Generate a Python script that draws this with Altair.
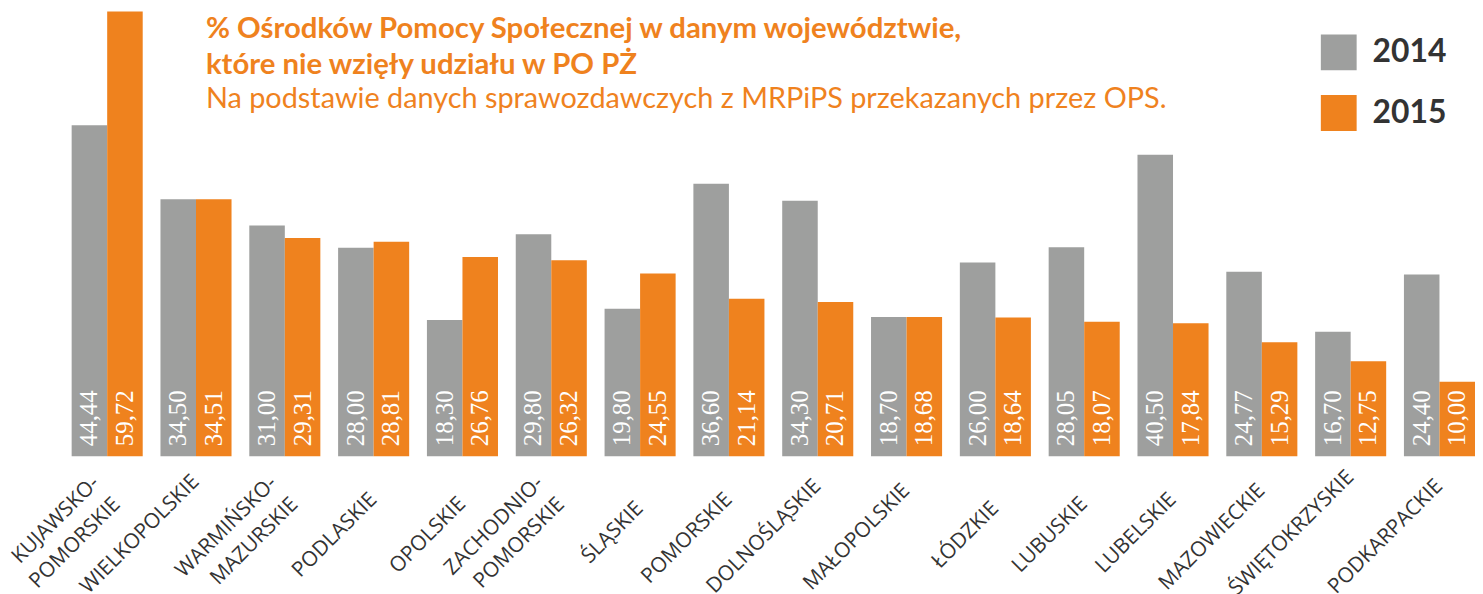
import altair as alt
import pandas as pd

REGIONS = [
    "KUJAWSKO-\nPOMORSKIE", "WIELKOPOLSKIE", "WARMIŃSKO-\nMAZURSKIE", "PODLASKIE",
    "OPOLSKIE", "ZACHODNIO-\nPOMORSKIE", "ŚLĄSKIE", "POMORSKIE", "DOLNOŚLĄSKIE",
    "MAŁOPOLSKIE", "ŁÓDZKIE", "LUBUSKIE", "LUBELSKIE", "MAZOWIECKIE",
    "ŚWIĘTOKRZYSKIE", "PODKARPACKIE",
]
V2014 = [44.44, 34.50, 31.00, 28.00, 18.30, 29.80, 19.80, 36.60, 34.30,
         18.70, 26.00, 28.05, 40.50, 24.77, 16.70, 24.40]
V2015 = [59.72, 34.51, 29.31, 28.81, 26.76, 26.32, 24.55, 21.14, 20.71,
         18.68, 18.64, 18.07, 17.84, 15.29, 12.75, 10.00]
YEARS = ["2014", "2015"]
COLORS = ["#9e9f9e", "#ef821e"]
TITLE_LINES = [
    "% Ośrodków Pomocy Społecznej w danym województwie,",
    "które nie wzięły udziału w PO PŻ",
]
SUBTITLE = "Na podstawie danych sprawozdawczych z MRPiPS przekazanych przez OPS."

rows = []
for r, a, b in zip(REGIONS, V2014, V2015):
    rows.append({"region": r, "year": YEARS[0], "value": a})
    rows.append({"region": r, "year": YEARS[1], "value": b})
df = pd.DataFrame(rows)
cat_df = pd.DataFrame({"region": REGIONS,
                       "lines": [r.count("\n") + 1 for r in REGIONS]})

ORANGE = "#ef821e"
W, H = 1411, 447

xscale = alt.Scale(domain=REGIONS, paddingInner=0.2, paddingOuter=0)
x = alt.X("region:N", sort=REGIONS, title=None, scale=xscale, axis=None)
y = alt.Y("value:Q", title=None, axis=None,
          scale=alt.Scale(domain=[0, max(V2015)], nice=False, zero=True))
color = alt.Color("year:N", scale=alt.Scale(domain=YEARS, range=COLORS),
                  legend=alt.Legend(title=None, orient="none", legendX=1256, legendY=23,
                                    symbolType="square", symbolSize=1296,
                                    symbolStrokeWidth=0, symbolOpacity=1,
                                    labelFontSize=32, labelFont="Lato",
                                    labelFontWeight="bold", labelColor="#333333",
                                    labelOffset=16, rowPadding=25, padding=0))

base = alt.Chart(df)
bars = base.mark_bar().encode(x=x, xOffset=alt.XOffset("year:N", sort=YEARS), y=y, color=color)

labels = base.transform_calculate(
    lab="replace(format(datum.value, '.2f'), '.', ',')", zero="0"
).mark_text(angle=270, align="left", baseline="middle", dx=10, color="white",
            font="Liberation Sans Narrow", fontSize=25).encode(
    x=alt.X("region:N", sort=REGIONS, scale=xscale, axis=None),
    xOffset=alt.XOffset("year:N", sort=YEARS),
    y=alt.Y("zero:Q", axis=None),
    text="lab:N",
)

cat_base = alt.Chart(cat_df)
cat_common = dict(angle=315, align="right", baseline="middle", font="Open Sans",
                  fontSize=21, color="#333333", lineBreak="\n", lineHeight=30)
# single-line labels: vertical middle of each rotated label kept on one line
cat1 = cat_base.transform_filter("datum.lines == 1").transform_calculate(
    ypix=f"{H} + 81 - 0.354 * 12.7 * length(datum.region)"
).mark_text(**cat_common).encode(
    x=alt.X("region:N", sort=REGIONS, scale=xscale, axis=None),
    y=alt.Y("ypix:Q", scale=None, axis=None), text="region:N")
cat2 = cat_base.transform_filter("datum.lines == 2").mark_text(
    dx=-1, dy=-15, **cat_common).encode(
    x=alt.X("region:N", sort=REGIONS, scale=xscale, axis=None),
    y=alt.value(H + 34), text="region:N")

t1 = alt.Chart(pd.DataFrame({"t": [TITLE_LINES[0]]})).mark_text(
    align="left", baseline="alphabetic", font="Lato", fontWeight="bold",
    fontSize=29.5, color=ORANGE).encode(x=alt.value(135), y=alt.value(27), text="t:N")
t2 = alt.Chart(pd.DataFrame({"t": [TITLE_LINES[1]]})).mark_text(
    align="left", baseline="alphabetic", font="Lato", fontWeight="bold",
    fontSize=29.5, color=ORANGE).encode(x=alt.value(135), y=alt.value(63), text="t:N")
t3 = alt.Chart(pd.DataFrame({"t": [SUBTITLE]})).mark_text(
    align="left", baseline="alphabetic", font="Lato", fontWeight="normal",
    fontSize=29, color=ORANGE).encode(x=alt.value(135), y=alt.value(97), text="t:N")

chart = alt.layer(bars, labels, cat1, cat2, t1, t2, t3).properties(
    width=W, height=H,
    background="white",
    autosize=alt.AutoSizeParams(type="none"),
    padding={"left": 64, "top": 2, "right": 0, "bottom": 137},
).configure_view(strokeWidth=0, stroke="transparent")

chart.save("out.html", embed_options={"renderer": "svg", "actions": False})
